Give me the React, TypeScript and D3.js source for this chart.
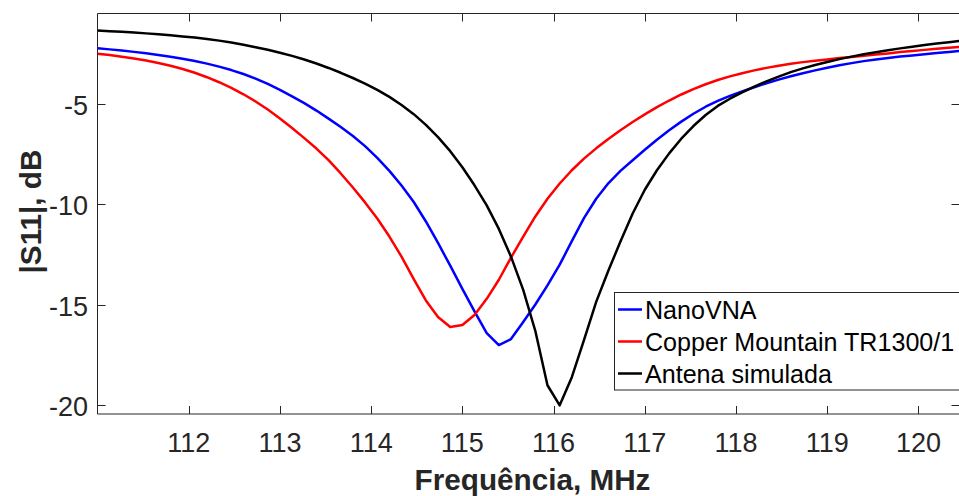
import React from 'react';
import * as d3 from 'd3';

// Frequency grid (MHz)
const freqMHz = [
  111.000, 111.133, 111.267, 111.400, 111.533, 111.667, 111.800, 111.933, 112.067, 112.200,
  112.333, 112.467, 112.600, 112.733, 112.867, 113.000, 113.133, 113.267, 113.400, 113.533,
  113.667, 113.800, 113.933, 114.067, 114.200, 114.333, 114.467, 114.600, 114.733, 114.867,
  115.000, 115.133, 115.267, 115.400, 115.533, 115.667, 115.800, 115.933, 116.067, 116.200,
  116.333, 116.467, 116.600, 116.733, 116.867, 117.000, 117.133, 117.267, 117.400, 117.533,
  117.667, 117.800, 117.933, 118.067, 118.200, 118.333, 118.467, 118.600, 118.733, 118.867,
  119.000, 119.133, 119.267, 119.400, 119.533, 119.667, 119.800, 119.933, 120.067, 120.200,
  120.333, 120.467,
];

// |S11| in dB
const nanoVNA = [
  -2.23, -2.285, -2.345, -2.41, -2.48, -2.56, -2.65, -2.75, -2.865, -2.995,
  -3.145, -3.315, -3.51, -3.74, -4.00, -4.30, -4.62, -4.96, -5.33, -5.73,
  -6.15, -6.60, -7.10, -7.68, -8.33, -9.06, -9.88, -10.85, -11.92, -13.05,
  -14.20, -15.32, -16.40, -17.00, -16.70, -15.85, -14.98, -14.03, -13.00, -11.83,
  -10.68, -9.72, -8.95, -8.33, -7.80, -7.28, -6.78, -6.31, -5.88, -5.49,
  -5.14, -4.85, -4.60, -4.38, -4.17, -3.97, -3.79, -3.62, -3.47, -3.33,
  -3.20, -3.08, -2.97, -2.87, -2.785, -2.71, -2.645, -2.585, -2.525, -2.47,
  -2.415, -2.36,
];

const copperMountain = [
  -2.50, -2.57, -2.65, -2.74, -2.84, -2.96, -3.10, -3.26, -3.45, -3.67,
  -3.92, -4.20, -4.52, -4.88, -5.28, -5.72, -6.20, -6.70, -7.22, -7.80,
  -8.46, -9.16, -9.90, -10.70, -11.60, -12.60, -13.72, -14.78, -15.60, -16.10,
  -16.00, -15.50, -14.70, -13.75, -12.65, -11.60, -10.60, -9.72, -8.96, -8.30,
  -7.72, -7.21, -6.75, -6.31, -5.90, -5.52, -5.16, -4.83, -4.53, -4.26,
  -4.02, -3.81, -3.63, -3.47, -3.33, -3.205, -3.095, -3.00, -2.92, -2.85,
  -2.785, -2.72, -2.66, -2.60, -2.54, -2.485, -2.42, -2.37, -2.31, -2.26,
  -2.21, -2.16,
];

const antenaSimulada = [
  -1.35, -1.38, -1.413, -1.449, -1.489, -1.534, -1.584, -1.639, -1.70, -1.77,
  -1.85, -1.945, -2.055, -2.175, -2.305, -2.45, -2.61, -2.79, -2.99, -3.21,
  -3.45, -3.71, -3.99, -4.30, -4.65, -5.05, -5.51, -6.04, -6.65, -7.35,
  -8.15, -9.05, -10.05, -11.22, -12.60, -14.25, -16.30, -19.00, -20.00, -18.60,
  -16.75, -14.85, -13.30, -11.85, -10.45, -9.27, -8.30, -7.46, -6.73, -6.10,
  -5.55, -5.10, -4.74, -4.42, -4.14, -3.88, -3.64, -3.42, -3.23, -3.06,
  -2.91, -2.77, -2.645, -2.53, -2.425, -2.325, -2.235, -2.15, -2.07, -1.995,
  -1.925, -1.86,
];

const xTicks = [112, 113, 114, 115, 116, 117, 118, 119, 120];
const yTicks = [-20, -15, -10, -5];
const seriesNames = ['NanoVNA', 'Copper Mountain TR1300/1', 'Antena simulada'];
const seriesColors = ['#0000ff', '#ff0000', '#000000'];
const xLabel = 'Frequência, MHz';
const yLabel = '|S11|, dB';

export default function App() {
  const W = 959;
  const H = 496;
  const left = 97.5;
  const right = 959.5;
  const top = 13.5;
  const bottom = 414;
  const font = '"Liberation Sans", Arial, Helvetica, sans-serif';
  const axisColor = '#262626';

  const x = d3.scaleLinear().domain([111, 120.45]).range([left, right]);
  const y = d3.scaleLinear().domain([-20.43, -0.5]).range([bottom, top]);

  const series = [nanoVNA, copperMountain, antenaSimulada];
  const line = d3
    .line<number>()
    .x((_, i) => x(freqMHz[i]))
    .y((d) => y(d))
    .curve(d3.curveLinear);

  const tickLen = 8;

  return (
    <svg
      width={W}
      height={H}
      viewBox={`0 0 ${W} ${H}`}
      style={{ position: 'absolute', left: 0, top: 0, background: '#fff' }}
      fontFamily={font}
    >
      <defs>
        <clipPath id="plotClip">
          <rect x={left} y={top} width={right - left} height={bottom - top} />
        </clipPath>
      </defs>
      <rect x={0} y={0} width={W} height={H} fill="#fff" />

      {/* axes box */}
      <line x1={left} y1={top} x2={right} y2={top} stroke={axisColor} strokeWidth={1} />
      <line x1={left} y1={bottom} x2={right} y2={bottom} stroke={axisColor} strokeWidth={1} />
      <line x1={left} y1={top} x2={left} y2={bottom} stroke={axisColor} strokeWidth={1} />

      {/* x ticks */}
      {xTicks.map((t) => {
        const px = Math.round(x(t)) + 0.5;
        return (
          <g key={`xt${t}`}>
            <line x1={px} y1={bottom} x2={px} y2={bottom - tickLen} stroke={axisColor} />
            <line x1={px} y1={top} x2={px} y2={top + tickLen} stroke={axisColor} />
            <text x={x(t)} y={452} textAnchor="middle" fontSize={27} fill={axisColor}>
              {t}
            </text>
          </g>
        );
      })}

      {/* y ticks */}
      {yTicks.map((t) => {
        const py = Math.round(y(t)) + 0.5;
        return (
          <g key={`yt${t}`}>
            <line x1={left} y1={py} x2={left + tickLen} y2={py} stroke={axisColor} />
            <line x1={right} y1={py} x2={right - tickLen} y2={py} stroke={axisColor} />
            <text x={88} y={y(t) + 11} textAnchor="end" fontSize={27} fill={axisColor}>
              {t}
            </text>
          </g>
        );
      })}

      {/* curves */}
      <g clipPath="url(#plotClip)">
        {series.map((s, i) => (
          <path
            key={seriesNames[i]}
            d={line(s) || ''}
            fill="none"
            stroke={seriesColors[i]}
            strokeWidth={2.5}
            strokeLinejoin="round"
          />
        ))}
      </g>

      {/* axis labels */}
      <text
        x={532.5}
        y={490}
        textAnchor="middle"
        fontSize={29.7}
        fontWeight="bold"
        fill={axisColor}
      >
        {xLabel}
      </text>
      <text
        transform={`translate(41, 211.5) rotate(-90)`}
        textAnchor="middle"
        fontSize={29.7}
        fontWeight="bold"
        fill={axisColor}
      >
        {yLabel}
      </text>

      {/* legend */}
      <g>
        <rect
          x={614.5}
          y={292.5}
          width={380}
          height={97.5}
          fill="#fff"
          stroke={axisColor}
          strokeWidth={1}
        />
        {seriesNames.map((name, i) => {
          const ly = 309.5 + i * 32;
          return (
            <g key={`lg${name}`}>
              <line x1={618} y1={ly} x2={642} y2={ly} stroke={seriesColors[i]} strokeWidth={2.5} />
              <text x={645} y={ly + 9.5} fontSize={25.1} fill="#000">
                {name}
              </text>
            </g>
          );
        })}
      </g>
    </svg>
  );
}
